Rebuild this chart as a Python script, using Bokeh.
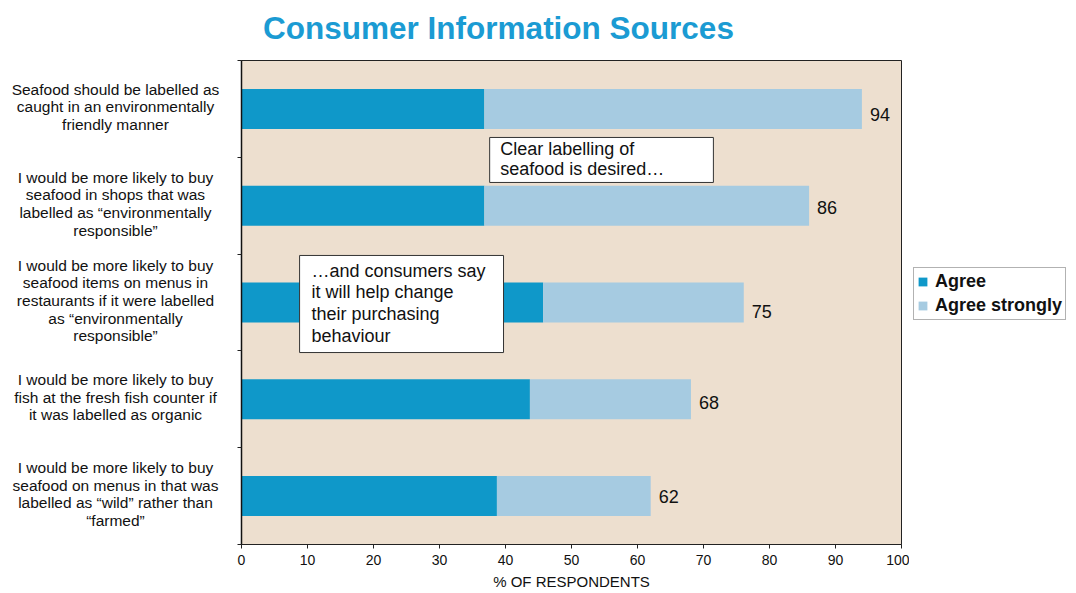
from bokeh.plotting import figure
from bokeh.layouts import row, column
from bokeh.models import (Range1d, FixedTicker, Label, BoxAnnotation, Legend,
                          LegendItem, ColumnDataSource)
from bokeh.core.properties import value
from bokeh.embed import file_html
from bokeh.resources import INLINE

# ---------------- data ----------------
categories = [
    "Seafood should be labelled as\ncaught in an environmentally\nfriendly manner",
    "I would be more likely to buy\nseafood in shops that was\nlabelled as \u201cenvironmentally\nresponsible\u201d",
    "I would be more likely to buy\nseafood items on menus in\nrestaurants if it were labelled\nas \u201cenvironmentally\nresponsible\u201d",
    "I would be more likely to buy\nfish at the fresh fish counter if\nit was labelled as organic",
    "I would be more likely to buy\nseafood on menus in that was\nlabelled as \u201cwild\u201d rather than\n\u201cfarmed\u201d",
]
agree = [36.8, 36.8, 45.7, 43.7, 38.7]
agree_strongly = [57.2, 49.2, 30.4, 24.4, 23.3]
total_labels = ["94", "86", "75", "68", "62"]
series_names = ["Agree", "Agree strongly"]
x_ticks = [0, 10, 20, 30, 40, 50, 60, 70, 80, 90, 100]
title_text = "Consumer Information Sources"
x_axis_title = "% OF RESPONDENTS"
note_1 = "Clear labelling of\nseafood is desired\u2026"
note_2 = "\u2026and consumers say\nit will help change\ntheir purchasing\nbehaviour"

# ---------------- styles ----------------
FONT = "Liberation Sans"
C_AGREE = "#0f98c9"
C_STRONG = "#a6cbe1"
BG = "#eddfcf"
TITLE_C = "#1b9bd3"
label_dy = [6, 2, 9, 3, 0]  # pixel nudges of the value labels

TITLE_H = 45
TOP = 15
FRAME_H = 484
LEFT_W = 233
FRAME_W = 660
RIGHT_W = 167
TOTAL_W = LEFT_W + 8 + FRAME_W + 8 + RIGHT_W

n = len(categories)
ypos = [n - 0.5 - i for i in range(n)]
totals = [a + s for a, s in zip(agree, agree_strongly)]
yr = Range1d(0, n)

src = ColumnDataSource(dict(y=ypos, agree=agree, strong=agree_strongly,
                            total=totals, lab=total_labels, dy=label_dy,
                            cat=categories))

# ---------------- title strip ----------------
pt = figure(frame_width=TOTAL_W, frame_height=TITLE_H, output_backend="svg",
            toolbar_location=None, x_range=Range1d(0, TOTAL_W),
            y_range=Range1d(0, TITLE_H), x_axis_type=None, y_axis_type=None,
            min_border=0)
pt.outline_line_color = None
pt.xgrid.visible = False
pt.ygrid.visible = False
pt.add_layout(Label(x=498, y=TITLE_H - 27, text=title_text, text_align="center",
                    text_baseline="middle", text_font=FONT,
                    text_font_size="31.5px", text_font_style="bold",
                    text_color=TITLE_C))

# ---------------- left: category labels ----------------
pl = figure(frame_width=LEFT_W, frame_height=FRAME_H, output_backend="svg",
            toolbar_location=None, x_range=Range1d(0, LEFT_W), y_range=yr,
            x_axis_type=None, y_axis_type=None,
            min_border_left=0, min_border_right=0, min_border_top=TOP,
            min_border_bottom=0)
pl.outline_line_color = None
pl.background_fill_color = "white"
pl.xgrid.visible = False
pl.ygrid.visible = False
pl.text(x=115, y="y", text="cat", source=src, y_offset=-2,
        text_align="center", text_baseline="middle",
        text_font=value(FONT), text_font_size="15.5px", text_line_height=1.04,
        text_color="#111111")

# ---------------- main chart ----------------
p = figure(frame_width=FRAME_W, frame_height=FRAME_H, output_backend="svg",
           toolbar_location=None, x_range=Range1d(0, 100), y_range=yr,
           min_border_left=8, min_border_right=8, min_border_top=TOP,
           min_border_bottom=0)
p.background_fill_color = BG
p.border_fill_color = "white"
p.outline_line_color = "#222222"
p.outline_line_width = 1
p.xgrid.visible = False
p.ygrid.visible = False

rs = p.hbar_stack(["agree", "strong"], y="y", height=0.413,
                  color=[C_AGREE, C_STRONG], line_color=None, source=src)

p.text(x="total", y="y", text="lab", source=src, x_offset=8, y_offset="dy",
       text_align="left", text_baseline="middle",
       text_font=value(FONT), text_font_size="18px", text_color="#111111")

xa = p.xaxis[0]
xa.ticker = FixedTicker(ticks=x_ticks)
xa.major_label_text_font = FONT
xa.major_label_text_font_size = "14px"
xa.major_label_text_color = "#111111"
xa.major_tick_in = 0
xa.major_tick_out = 4
xa.minor_tick_line_color = None
xa.major_label_standoff = 6
xa.axis_line_color = "#222222"
xa.major_tick_line_color = "#222222"
xa.axis_label = x_axis_title
xa.axis_label_text_font = FONT
xa.axis_label_text_font_size = "15px"
xa.axis_label_text_font_style = "normal"
xa.axis_label_text_color = "#111111"
xa.axis_label_standoff = 5

ya = p.yaxis[0]
ya.ticker = FixedTicker(ticks=list(range(n + 1)))
ya.major_label_overrides = {i: "" for i in range(n + 1)}
ya.major_label_standoff = 0
ya.major_tick_in = 0
ya.major_tick_out = 4
ya.minor_tick_line_color = None
ya.axis_line_color = "#111111"
ya.axis_line_width = 1.5
ya.major_tick_line_color = "#222222"

# annotation boxes
p.add_layout(BoxAnnotation(left=37.6, right=71.5, top=4.205, bottom=3.740,
                           fill_color="white", fill_alpha=1,
                           line_color="#333333", line_width=1, line_alpha=1))
p.add_layout(Label(x=39.2, y=4.19, text=note_1, text_align="left",
                   text_baseline="top", text_font=FONT, text_font_size="18px",
                   text_line_height=1.0, text_color="#111111"))
p.add_layout(BoxAnnotation(left=8.8, right=39.7, top=2.986, bottom=1.983,
                           fill_color="white", fill_alpha=1,
                           line_color="#333333", line_width=1, line_alpha=1))
p.add_layout(Label(x=10.6, y=2.93, text=note_2, text_align="left",
                   text_baseline="top", text_font=FONT, text_font_size="18px",
                   text_line_height=1.08, text_color="#111111"))

# ---------------- right: legend ----------------
pr = figure(frame_width=RIGHT_W, frame_height=FRAME_H, output_backend="svg",
            toolbar_location=None, x_range=Range1d(0, 1), y_range=Range1d(0, 1),
            x_axis_type=None, y_axis_type=None,
            min_border_left=0, min_border_right=0, min_border_top=TOP,
            min_border_bottom=0)
pr.outline_line_color = None
pr.xgrid.visible = False
pr.ygrid.visible = False
# zero-width swatch carriers for the legend (nothing visible is drawn)
swatch = ColumnDataSource(dict(y=[0.0], left=[0.0], right=[0.0]))
g1 = pr.hbar(y="y", left="left", right="right", height=0.0, color=C_AGREE,
             line_color=None, source=swatch)
g2 = pr.hbar(y="y", left="left", right="right", height=0.0, color=C_STRONG,
             line_color=None, source=swatch)
legend = Legend(items=[LegendItem(label=series_names[0], renderers=[g1], index=0),
                       LegendItem(label=series_names[1], renderers=[g2], index=0)],
                location=(4, 224), orientation="vertical",
                label_text_font=FONT, label_text_font_size="18px",
                label_text_font_style="bold", label_text_color="#111111",
                glyph_width=11, glyph_height=11, label_standoff=7,
                spacing=3, padding=3, margin=0, label_height=18,
                border_line_color="#666666", border_line_width=1,
                background_fill_color="white", background_fill_alpha=1)
pr.add_layout(legend)

layout = column(pt, row(pl, p, pr))
open("out.html", "w").write(file_html(layout, INLINE))
